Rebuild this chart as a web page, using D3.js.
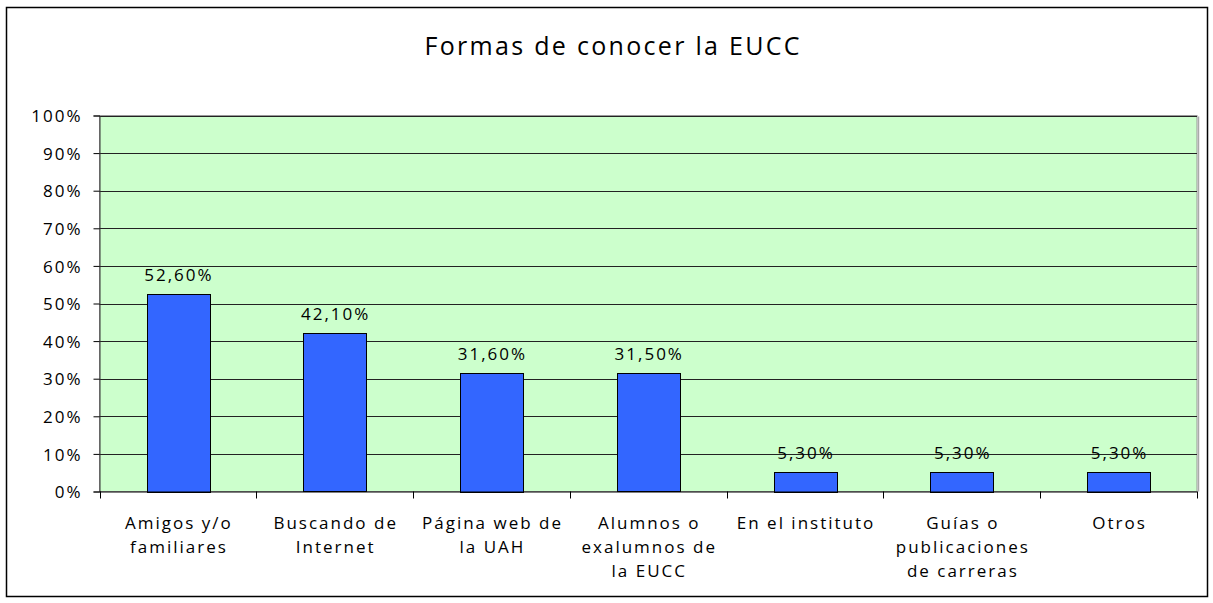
<!DOCTYPE html>
<html><head><meta charset="utf-8">
<script src="https://cdn.jsdelivr.net/npm/d3@7"></script>
<style>body{margin:0;background:#fff}svg{display:block}text{font-family:"Open Sans",sans-serif;fill:#000}</style>
</head><body><svg id="c" width="1213" height="603"></svg>
<script>
const categories = [["Amigos y/o","familiares"],["Buscando de","Internet"],["Página web de","la UAH"],["Alumnos o","exalumnos de","la EUCC"],["En el instituto"],["Guías o","publicaciones","de carreras"],["Otros"]];
const values = [52.6, 42.1, 31.6, 31.5, 5.3, 5.3, 5.3];
const valueLabels = ["52,60%","42,10%","31,60%","31,50%","5,30%","5,30%","5,30%"];
const yTicks = [0,10,20,30,40,50,60,70,80,90,100];
const title = "Formas de conocer la EUCC";

const svg = d3.select("#c");
const L=99.5, R=1197, T=115.5, B=491.5;
const LS = 2;
svg.append("rect").attr("x",6.5).attr("y",7.5).attr("width",1201).attr("height",589).attr("fill","#fff").attr("stroke","#000").attr("stroke-width",1.5);
svg.append("text").attr("x",612+1.2).attr("y",55).attr("text-anchor","middle").style("font-size","25px").style("letter-spacing","2.3px").text(title);

const x = d3.scaleBand().domain(d3.range(categories.length)).range([L,R]).paddingInner(0.6).paddingOuter(0.3);
const xb = d3.scaleBand().domain(d3.range(categories.length)).range([L,R]);
const y = d3.scaleLinear().domain([0,100]).range([B,T]);

svg.append("rect").attr("x",L).attr("y",T).attr("width",R-L).attr("height",B-T).attr("fill","#CCFFCC").attr("stroke","#999");
svg.append("line").attr("x1",R+1.5).attr("x2",R+1.5).attr("y1",T+1).attr("y2",B).attr("stroke","#aaa").attr("stroke-width",1.5);
svg.append("g").selectAll("line").data(yTicks.filter(d=>d>0)).join("line")
  .attr("x1",L).attr("x2",R).attr("y1",d=>Math.round(y(d))+0.5).attr("y2",d=>Math.round(y(d))+0.5).attr("stroke","#222");

// y axis
const ya = svg.append("g").attr("transform",`translate(${L},0)`).call(d3.axisLeft(y).tickValues(yTicks).tickSize(6).tickFormat(d=>d+"%"));
ya.select(".domain").attr("stroke","#333");
ya.selectAll(".tick line").attr("stroke","#000");
ya.selectAll("text").style("font-size","17px").style("letter-spacing",LS+"px").attr("x",-17).attr("dy","0.36em").attr("font-family","Open Sans").attr("fill","#000");

// bars
svg.append("g").selectAll("rect").data(values).join("rect")
  .attr("x",(d,i)=>Math.round(x(i))+0.5).attr("width",Math.round(x.bandwidth()))
  .attr("y",d=>Math.round(y(d))+0.5).attr("height",d=>Math.round(B-y(d)))
  .attr("fill","#3366FF").attr("stroke","#000");

svg.append("g").selectAll("text").data(values).join("text")
  .attr("x",(d,i)=>x(i)+x.bandwidth()/2+LS/2).attr("y",d=>y(d)-13)
  .attr("text-anchor","middle").style("font-size","17px").style("letter-spacing",LS+"px").text((d,i)=>valueLabels[i]);

// x axis
const xa = svg.append("g").attr("transform",`translate(0,${B})`);
xa.append("line").attr("x1",L).attr("x2",R).attr("y1",0.5).attr("y2",0.5).attr("stroke","#000");
xa.selectAll("line.t").data(d3.range(categories.length+1)).join("line").attr("class","t")
  .attr("x1",i=>Math.round(L+i*xb.step())+0.5).attr("x2",i=>Math.round(L+i*xb.step())+0.5).attr("y1",0).attr("y2",7).attr("stroke","#000");
const lab = svg.append("g").selectAll("text").data(categories).join("text")
  .attr("text-anchor","middle").style("font-size","17px").style("letter-spacing",LS+"px")
  .attr("transform",(d,i)=>`translate(${xb(i)+xb.bandwidth()/2+LS/2},529)`);
lab.selectAll("tspan").data(d=>d).join("tspan").attr("x",0).attr("dy",(d,j)=>j?24:0).text(d=>d);
</script></body></html>
